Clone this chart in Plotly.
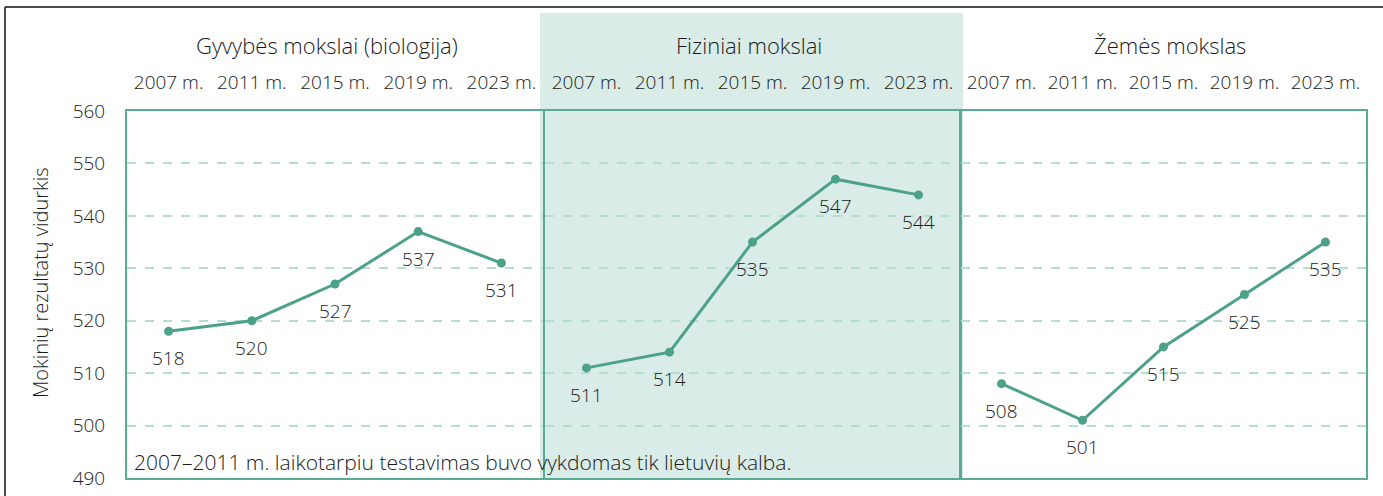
import plotly.graph_objects as go

years = ["2007 m.", "2011 m.", "2015 m.", "2019 m.", "2023 m."]
panel_titles = ["Gyvybės mokslai (biologija)", "Fiziniai mokslai", "Žemės mokslas"]
bio = [518, 520, 527, 537, 531]
phys = [511, 514, 535, 547, 544]
earth = [508, 501, 515, 525, 535]
series = [bio, phys, earth]
y_ticks = [490, 500, 510, 520, 530, 540, 550, 560]
note = "2007–2011 m. laikotarpiu testavimas buvo vykdomas tik lietuvių kalba."
y_title = "Mokinių rezultatų vidurkis"

W, H = 1383, 496
L, R, T, B = 127, 1366, 111, 478
PW, PH = R - L, B - T

def px(x):
    return (x - L) / PW

def py(y):
    return (B - y) / PH

LINE = "#4ca189"
BOX = "#5aab93"
GRID = "#b6ddd1"
SHADE = "#d9ece7"
TXT = "#1a1a1a"
FONT = "Open Sans"
WT = 300

domains = [[px(127), px(543)], [px(545), px(960)], [px(961), px(1366)]]

fig = go.Figure()
for i, vals in enumerate(series):
    sx = "" if i == 0 else str(i + 1)
    fig.add_trace(go.Scatter(
        x=years, y=vals, xaxis="x" + sx, yaxis="y" + sx,
        mode="lines+markers",
        line=dict(color=LINE, width=3),
        marker=dict(color=LINE, size=9),
        showlegend=False, hoverinfo="skip"))
    for xv, yv in zip(years, vals):
        fig.add_annotation(x=xv, y=yv, xref="x" + sx, yref="y" + sx,
                           xanchor="center", yanchor="middle",
                           text=str(yv), showarrow=False, yshift=-27,
                           font=dict(size=19, color=TXT, family=FONT, weight=WT))

axis_common = dict(showline=True, mirror=True, linecolor=BOX, linewidth=2,
                   automargin=False)
layout = dict(
    template="none",
    width=W, height=H, autosize=False,
    margin=dict(l=L, r=W - R, t=T, b=H - B, pad=0),
    paper_bgcolor="white", plot_bgcolor="rgba(0,0,0,0)",
    font=dict(family=FONT, color=TXT, size=18, weight=WT),
)
for i in range(3):
    sx = "" if i == 0 else str(i + 1)
    layout["xaxis" + sx] = dict(
        domain=domains[i], anchor="y" + sx, side="top", type="category",
        range=[-0.5, 4.5], showgrid=False, ticks="outside", ticklen=12,
        tickcolor="rgba(0,0,0,0)",
        tickfont=dict(size=19, color=TXT, family=FONT, weight=WT),
        **axis_common)
    ya = dict(
        anchor="x" + sx, range=[490, 560], tickvals=y_ticks,
        showgrid=True, gridcolor=GRID, griddash="dash", gridwidth=1.5,
        zeroline=False, **axis_common)
    if i == 0:
        ya.update(ticks="outside", ticklen=16, tickcolor="rgba(0,0,0,0)",
                  tickfont=dict(size=19, color=TXT, family=FONT, weight=WT))
    else:
        ya.update(showticklabels=False, matches="y")
    layout["yaxis" + sx] = ya

fig.update_layout(**layout)

# shaded band behind the middle panel
fig.add_shape(type="rect", xref="paper", yref="paper",
              x0=px(540), x1=px(963), y0=py(478), y1=py(13),
              fillcolor=SHADE, line=dict(width=0), layer="below")
# outer frame (top and left)
fig.add_shape(type="line", xref="paper", yref="paper",
              x0=px(5), x1=px(1383), y0=py(7), y1=py(7),
              line=dict(color="#111111", width=1.5))
fig.add_shape(type="line", xref="paper", yref="paper",
              x0=px(5), x1=px(5), y0=py(7), y1=py(496),
              line=dict(color="#111111", width=1.5))

title_x = [327, 749, 1170]
for i, t in enumerate(panel_titles):
    fig.add_annotation(x=px(title_x[i]), y=py(45),
                       xref="paper", yref="paper", text=t, showarrow=False,
                       xanchor="center", yanchor="middle",
                       font=dict(size=22, color=TXT, family=FONT, weight=WT))

fig.add_annotation(x=px(132), y=py(462), xref="paper", yref="paper",
                   xanchor="left", yanchor="middle", text=note, showarrow=False,
                   font=dict(size=21, color=TXT, family=FONT, weight=WT))
fig.add_annotation(x=px(40), y=py(283), xref="paper", yref="paper",
                   xanchor="center", yanchor="middle",
                   text=y_title, textangle=-90, showarrow=False,
                   font=dict(size=20, color=TXT, family=FONT, weight=WT))

fig.write_html(
    "out.html",
    config={"displayModeBar": False, "responsive": False},
    post_script=(
        "document.body.style.margin='0';"
        "document.documentElement.style.overflow='hidden';"
        "document.body.style.overflow='hidden';"
    ),
)
